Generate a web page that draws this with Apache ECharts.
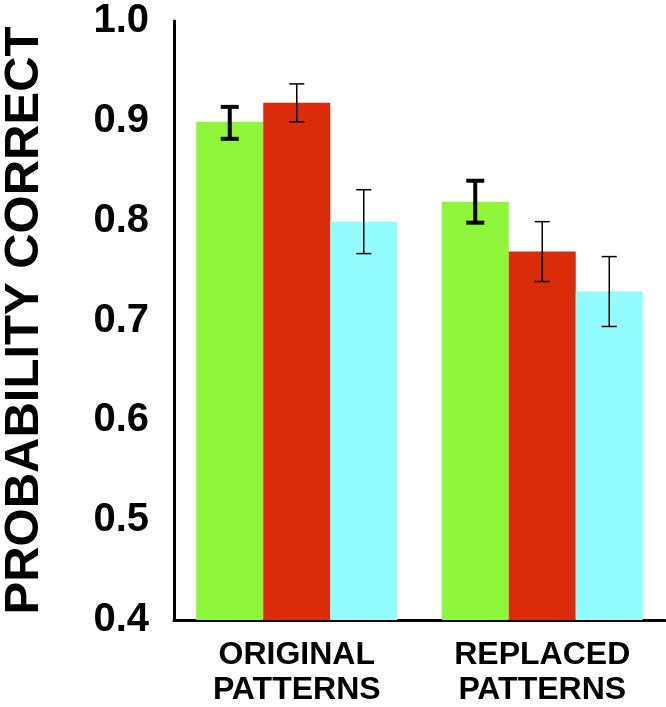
<!DOCTYPE html>
<html>
<head>
<meta charset="utf-8">
<script src="https://cdn.jsdelivr.net/npm/echarts@6/dist/echarts.min.js"></script>
<style>
html,body{margin:0;padding:0;background:#fff;}
#chart{width:666px;height:707px;}
</style>
</head>
<body>
<div id="chart"></div>
<script>
const categories = ['ORIGINAL\nPATTERNS', 'REPLACED\nPATTERNS'];
const yTicks = [0.4, 0.5, 0.6, 0.7, 0.8, 0.9, 1.0];
const greenValues = [0.899, 0.819];
const redValues = [0.918, 0.769];
const cyanValues = [0.799, 0.729];
const greenErr = [[0.882, 0.914], [0.798, 0.840]];
const redErr = [[0.899, 0.937], [0.739, 0.799]];
const cyanErr = [[0.767, 0.831], [0.694, 0.764]];

const BAR_W = 67;
const colors = ['#8FF53B', '#DA2B0A', '#91FBFD'];

function errSeries(errs, idx, lw, capW) {
  return {
    type: 'custom',
    z: 5,
    data: errs.map((e, i) => [i, e[0], e[1]]),
    encode: { x: 0, y: [1, 2] },
    renderItem: function (params, api) {
      const c = api.value(0);
      const lo = api.coord([c, api.value(1)]);
      const hi = api.coord([c, api.value(2)]);
      const x = lo[0] + (idx - 1) * BAR_W;
      const h = capW / 2;
      const st = { stroke: '#000', lineWidth: lw };
      return {
        type: 'group',
        children: [
          { type: 'line', shape: { x1: x, y1: hi[1], x2: x, y2: lo[1] }, style: st },
          { type: 'line', shape: { x1: x - h, y1: hi[1], x2: x + h, y2: hi[1] }, style: st },
          { type: 'line', shape: { x1: x - h, y1: lo[1], x2: x + h, y2: lo[1] }, style: st }
        ]
      };
    }
  };
}

const chart = echarts.init(document.getElementById('chart'));
chart.setOption({
  animation: false,
  grid: { left: 174, right: 1, top: 21, bottom: 87, containLabel: false, outerBoundsMode: 'none' },
  xAxis: {
    type: 'category',
    data: categories,
    axisLine: { lineStyle: { color: '#000', width: 3 } },
    axisTick: { show: false },
    axisLabel: {
      color: '#000', fontFamily: 'Liberation Sans, Arial, sans-serif',
      fontWeight: 'bold', fontSize: 32, lineHeight: 35, margin: 18
    }
  },
  yAxis: {
    type: 'value',
    min: yTicks[0], max: yTicks[yTicks.length - 1], interval: 0.1,
    name: 'PROBABILITY CORRECT',
    nameLocation: 'middle',
    nameGap: 125,
    nameTextStyle: {
      color: '#000', fontFamily: 'Liberation Sans, Arial, sans-serif',
      fontWeight: 'bold', fontSize: 49
    },
    axisLine: { show: true, lineStyle: { color: '#000', width: 3 } },
    axisTick: { show: false },
    splitLine: { show: false },
    axisLabel: {
      color: '#000', fontFamily: 'Liberation Sans, Arial, sans-serif',
      fontWeight: 'bold', fontSize: 40, margin: 25,
      formatter: v => v.toFixed(1)
    }
  },
  series: [
    { type: 'bar', data: greenValues, barWidth: BAR_W, barGap: '0%', itemStyle: { color: colors[0] } },
    { type: 'bar', data: redValues, barWidth: BAR_W, barGap: '0%', itemStyle: { color: colors[1] } },
    { type: 'bar', data: cyanValues, barWidth: BAR_W, barGap: '0%', itemStyle: { color: colors[2] } },
    errSeries(greenErr, 0, 4, 18),
    errSeries(redErr, 1, 1.5, 15),
    errSeries(cyanErr, 2, 1.5, 15)
  ]
});
</script>
</body>
</html>
